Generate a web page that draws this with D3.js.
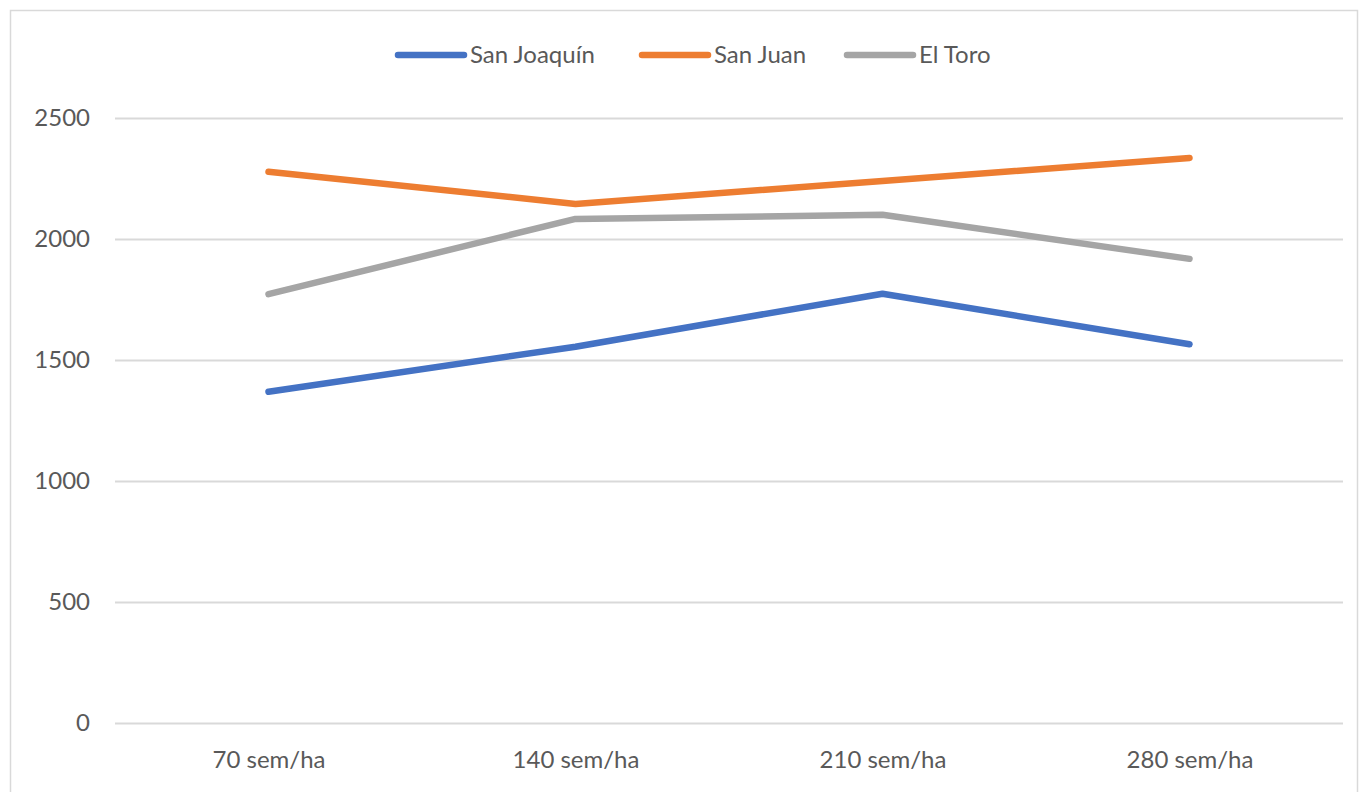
<!DOCTYPE html>
<html lang="es">
<head>
  <meta charset="UTF-8" />
  <title>Rendimiento por densidad</title>
  <script src="https://d3js.org/d3.v7.min.js"></script>
  <style>
    body { margin: 0; background: #fff; }
    svg { display: block; font-family: Lato, "Open Sans", sans-serif; }
  </style>
</head>
<body>
  <svg width="1360" height="792"></svg>
  <script>
    // data
    const categories = ["70 sem/ha", "140 sem/ha", "210 sem/ha", "280 sem/ha"];
    const seriesNames = ["San Joaquín", "San Juan", "El Toro"];
    const sanJoaquin = [1369, 1555, 1774, 1565];
    const sanJuan = [2278, 2145, 2240, 2335];
    const elToro = [1772, 2083, 2100, 1918];
    const yTicks = [0, 500, 1000, 1500, 2000, 2500];
    const colors = ["#4472C4", "#ED7D31", "#A5A5A5"];

    const series = [sanJoaquin, sanJuan, elToro].map((v, i) => ({
      name: seriesNames[i], values: v, color: colors[i]
    }));

    const svg = d3.select("svg");
    const plotLeft = 115, plotRight = 1343, plotTop = 118, plotBottom = 723;
    const fontSize = 24;

    // chart border
    svg.append("rect")
      .attr("x", 10.5).attr("y", 10.5)
      .attr("width", 1347).attr("height", 800)
      .attr("fill", "none").attr("stroke", "#d9d9d9").attr("stroke-width", 1.5);

    const x = d3.scalePoint().domain(categories).range([plotLeft, plotRight]).padding(0.5);
    const y = d3.scaleLinear().domain([0, 2500]).range([plotBottom, plotTop]);

    // gridlines
    svg.append("g").selectAll("line").data(yTicks).join("line")
      .attr("x1", plotLeft).attr("x2", plotRight)
      .attr("y1", d => Math.round(y(d)) + 0.5).attr("y2", d => Math.round(y(d)) + 0.5)
      .attr("stroke", "#d9d9d9").attr("stroke-width", 2);

    // y labels
    const yAxis = d3.axisLeft(y).tickValues(yTicks).tickFormat(d3.format("d"))
      .tickSize(0).tickPadding(0);
    const yg = svg.append("g").attr("transform", `translate(${90},0)`).call(yAxis);
    yg.select(".domain").remove();
    yg.selectAll("text")
      .attr("font-family", "Lato, sans-serif")
      .attr("font-size", fontSize).attr("fill", "#595959");

    // x labels
    const xAxis = d3.axisBottom(x).tickSize(0).tickPadding(0);
    const xg = svg.append("g").attr("transform", `translate(0,${751})`).call(xAxis);
    xg.select(".domain").remove();
    xg.selectAll("text")
      .attr("font-family", "Lato, sans-serif")
      .attr("font-size", fontSize).attr("fill", "#595959");

    // lines
    const line = d3.line()
      .x((d, i) => x(categories[i]))
      .y(d => y(d));

    svg.append("g").selectAll("path").data(series).join("path")
      .attr("d", d => line(d.values))
      .attr("fill", "none")
      .attr("stroke", d => d.color)
      .attr("stroke-width", 6.5)
      .attr("stroke-linecap", "round")
      .attr("stroke-linejoin", "round");

    // legend
    const legendX = [398, 642, 847];
    const lg = svg.append("g").selectAll("g").data(series).join("g")
      .attr("transform", (d, i) => `translate(${legendX[i]},55)`);
    lg.append("line")
      .attr("x1", 0).attr("x2", 66).attr("y1", 0).attr("y2", 0)
      .attr("stroke", d => d.color).attr("stroke-width", 6.5)
      .attr("stroke-linecap", "round");
    lg.append("text")
      .attr("x", 72).attr("y", 0).attr("dy", "0.35em")
      .attr("font-size", fontSize).attr("fill", "#595959")
      .text(d => d.name);
  </script>
</body>
</html>
